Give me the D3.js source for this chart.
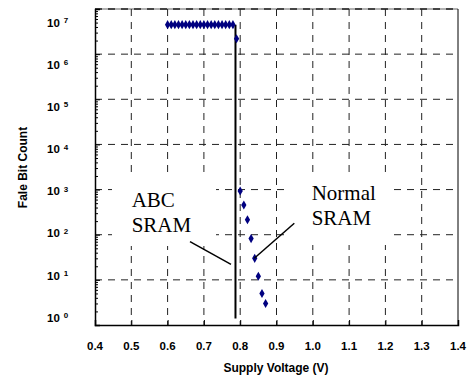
<!DOCTYPE html>
<html>
<head>
<meta charset="utf-8">
<script src="https://cdn.jsdelivr.net/npm/d3@7"></script>
<style>
  html, body { margin: 0; padding: 0; background: #fff; }
  svg { display: block; }
</style>
</head>
<body>
<script>
// ---- data ----
const voltage = [0.60, 0.61, 0.62, 0.63, 0.64, 0.65, 0.66, 0.67, 0.68, 0.69,
                 0.70, 0.71, 0.72, 0.73, 0.74, 0.75, 0.76, 0.77, 0.78, 0.79,
                 0.80, 0.81, 0.82, 0.83, 0.84, 0.85, 0.86, 0.87];
const failBits = [4.5e6, 4.5e6, 4.5e6, 4.5e6, 4.5e6, 4.5e6, 4.5e6, 4.5e6, 4.5e6, 4.5e6,
                  4.5e6, 4.5e6, 4.5e6, 4.5e6, 4.5e6, 4.5e6, 4.5e6, 4.5e6, 4.5e6, 2.2e6,
                  930, 455, 215, 82, 30, 12, 5, 3];
const xTicks = [0.4, 0.5, 0.6, 0.7, 0.8, 0.9, 1.0, 1.1, 1.2, 1.3, 1.4];
const xTickLabels = ["0.4", "0.5", "0.6", "0.7", "0.8", "0.9", "1.0", "1.1", "1.2", "1.3", "1.4"];
const yExponents = [0, 1, 2, 3, 4, 5, 6, 7];
// ABC SRAM boundary line (voltage, count from-to)
const abcLineV = [0.787, 0.787];
const abcLineC = [1.4, 4.5e6];
// annotations
const annoTexts = [["ABC", "SRAM"], ["Normal", "SRAM"]];
const xTitle = "Supply Voltage (V)";
const yTitle = "Fale Bit Count";

// ---- layout ----
const W = 471, H = 378;
const L = 95, R = 458, T = 9, B = 325;

const svg = d3.select("body").append("svg").attr("width", W).attr("height", H);

const x = d3.scaleLinear().domain([0.4, 1.4]).range([L, R]);
const y = d3.scaleLog().domain([1, 1e7]).range([B, T]);
const yLab = d3.scaleLinear().domain([0, 7]).range([321.7, 26.7]);

const gridColor = "#222";
const dash = "7,6";

// horizontal gridlines
svg.append("g").selectAll("line").data(yExponents.filter(e => e > 0 && e < 7)).join("line")
  .attr("x1", L).attr("x2", R)
  .attr("y1", e => y(Math.pow(10, e))).attr("y2", e => y(Math.pow(10, e)))
  .attr("stroke", gridColor).attr("stroke-width", 1).attr("stroke-dasharray", dash);

// top line (10^7) : gray solid with dashed dark on top
svg.append("line").attr("x1", L).attr("x2", R).attr("y1", y(1e7)).attr("y2", y(1e7))
  .attr("stroke", "#999").attr("stroke-width", 1.5);
svg.append("line").attr("x1", L).attr("x2", R).attr("y1", y(1e7)).attr("y2", y(1e7))
  .attr("stroke", "#222").attr("stroke-width", 1.5).attr("stroke-dasharray", dash);

// vertical gridlines
svg.append("g").selectAll("line").data(xTicks.filter(v => v > 0.45 && v < 1.35)).join("line")
  .attr("x1", d => x(d)).attr("x2", d => x(d))
  .attr("y1", T).attr("y2", B)
  .attr("stroke", gridColor).attr("stroke-width", 1).attr("stroke-dasharray", dash);

// white boxes behind annotation text
svg.append("rect").attr("x", 112).attr("y", 175).attr("width", 104).attr("height", 71).attr("fill", "#fff");
svg.append("rect").attr("x", 288).attr("y", 175).attr("width", 100).attr("height", 70).attr("fill", "#fff");

// axes
const xAxis = d3.axisBottom(x).tickValues(xTicks).tickSize(-5).tickFormat("");
const gx = svg.append("g").attr("transform", `translate(0,${B})`).call(xAxis);
gx.select(".domain").attr("stroke", "#000").attr("stroke-width", 1.5);
gx.selectAll(".tick line").attr("stroke", "#000");

const minorVals = [];
for (let e = 0; e < 7; e++) for (let m = 2; m <= 9; m++) minorVals.push(m * Math.pow(10, e));
const yAxisMinor = d3.axisLeft(y).tickValues(minorVals).tickSize(-3).tickFormat("");
const gyMinor = svg.append("g").attr("transform", `translate(${L},0)`).call(yAxisMinor);
gyMinor.select(".domain").remove();
gyMinor.selectAll(".tick line").attr("stroke", "#000");
const yAxis = d3.axisLeft(y).tickValues(yExponents.map(e => Math.pow(10, e))).tickSize(-5).tickFormat("");
const gy = svg.append("g").attr("transform", `translate(${L},0)`).call(yAxis);
gy.select(".domain").attr("stroke", "#000").attr("stroke-width", 1.5);
gy.selectAll(".tick line").attr("stroke", "#000");

// right border
svg.append("line").attr("x1", R).attr("x2", R).attr("y1", T).attr("y2", B)
  .attr("stroke", "#000").attr("stroke-width", 1);

// x tick labels
svg.append("g").selectAll("text").data(xTicks).join("text")
  .attr("x", d => x(d)).attr("y", 350)
  .attr("text-anchor", "middle")
  .attr("font-family", "Liberation Sans, Arial, sans-serif")
  .attr("font-weight", "bold").attr("font-size", 11.5)
  .text((d, i) => xTickLabels[i]);

// y tick labels 10^k
const yl = svg.append("g").selectAll("text").data(yExponents).join("text")
  .attr("x", 47).attr("y", e => yLab(e))
  .attr("font-family", "Liberation Sans, Arial, sans-serif")
  .attr("font-weight", "bold").attr("font-size", 11.5);
yl.append("tspan").text("10");
yl.append("tspan").attr("dx", 4).attr("dy", -3.5).attr("font-size", 8).text(e => e);

// axis titles
svg.append("text").attr("x", 276).attr("y", 372).attr("text-anchor", "middle")
  .attr("font-family", "Liberation Sans, Arial, sans-serif")
  .attr("font-weight", "bold").attr("font-size", 12).text(xTitle);
svg.append("text").attr("transform", "translate(26.5,167.5) rotate(-90)").attr("text-anchor", "middle")
  .attr("font-family", "Liberation Sans, Arial, sans-serif")
  .attr("font-weight", "bold").attr("font-size", 12).text(yTitle);

// ABC boundary line
svg.append("line")
  .attr("x1", x(abcLineV[0])).attr("x2", x(abcLineV[1]))
  .attr("y1", y(abcLineC[0])).attr("y2", y(abcLineC[1]))
  .attr("stroke", "#000").attr("stroke-width", 2);

// data points (diamonds)
const diamond = d3.symbol().type(d3.symbolDiamond).size(24);
svg.append("g").selectAll("path").data(voltage).join("path")
  .attr("transform", (d, i) => `translate(${x(d)},${y(failBits[i])})`)
  .attr("d", diamond)
  .attr("fill", "#000080");

// annotation texts
const annoPos = [[131.7, 207.3], [311.7, 200]];
annoTexts.forEach((lines, k) => {
  lines.forEach((t, j) => {
    svg.append("text").attr("x", annoPos[k][0]).attr("y", annoPos[k][1] + j * 24.7)
      .attr("font-family", "Liberation Serif, Times New Roman, serif")
      .attr("font-size", 21).attr("fill", "#000").text(t);
  });
});

// leader lines
svg.append("line").attr("x1", 190).attr("y1", 241.7).attr("x2", 231).attr("y2", 264.3)
  .attr("stroke", "#000").attr("stroke-width", 1.5);
svg.append("line").attr("x1", 254.3).attr("y1", 258.3).attr("x2", 294.3).attr("y2", 223.3)
  .attr("stroke", "#000").attr("stroke-width", 1.5);
</script>
</body>
</html>
